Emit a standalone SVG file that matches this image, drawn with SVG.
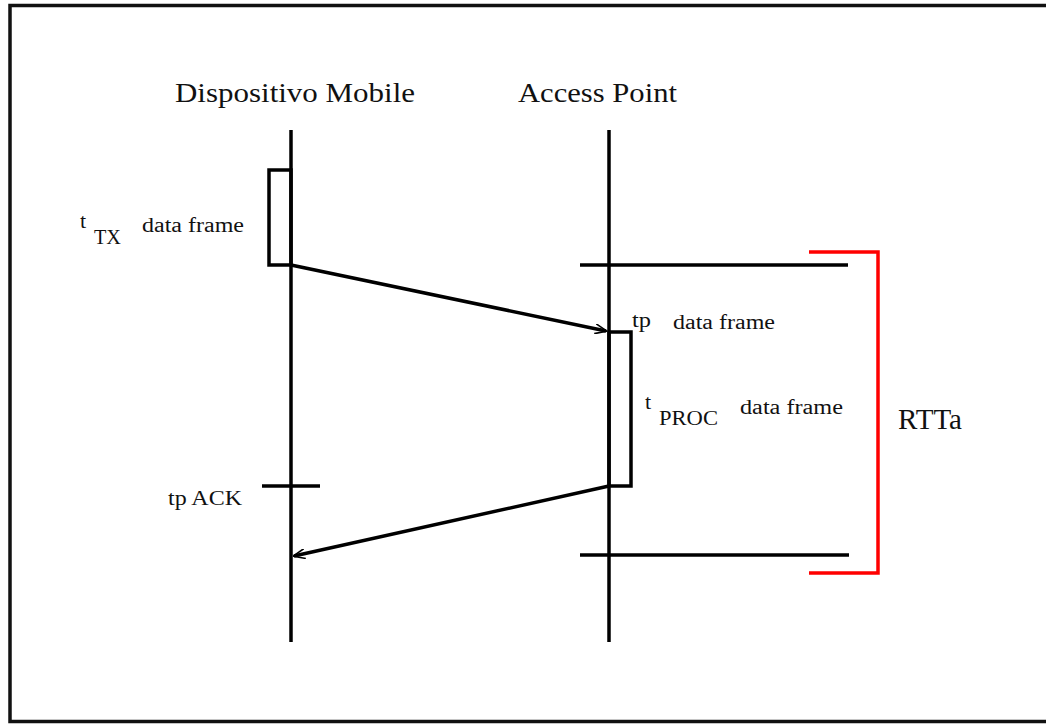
<svg xmlns="http://www.w3.org/2000/svg" width="1046" height="724" viewBox="0 0 1046 724">
<style>
.ln{stroke:#000;stroke-width:3.5;fill:none}
.t{font-family:"Liberation Serif","DejaVu Serif",serif;fill:#111}
</style>
<defs>
<marker id="ah" viewBox="0 0 12 10" refX="11" refY="5" markerWidth="12" markerHeight="10" markerUnits="userSpaceOnUse" orient="auto">
<path d="M0,0 L12,5 L0,10" fill="none" stroke="#000" stroke-width="1.6"/>
</marker>
</defs>
<rect x="0" y="0" width="1046" height="724" fill="#fff"/>
<rect x="10" y="5.5" width="1045" height="716" fill="none" stroke="#111" stroke-width="3.5"/>
<g id="dispositivo">
<text class="t" x="175" y="102" font-size="28" textLength="240" lengthAdjust="spacingAndGlyphs">Dispositivo Mobile</text>
<line class="ln" x1="291" y1="130" x2="291" y2="642"/>
<rect class="ln" x="269" y="170" width="22" height="95"/>
<line class="ln" x1="262" y1="486" x2="320" y2="486"/>
</g>
<g id="accesspoint">
<text class="t" x="518" y="102" font-size="28" textLength="159" lengthAdjust="spacingAndGlyphs">Access Point</text>
<line class="ln" x1="609" y1="130" x2="609" y2="642"/>
<rect class="ln" x="609" y="332" width="22" height="154"/>
<line class="ln" x1="580" y1="265" x2="848" y2="265"/>
<line class="ln" x1="580" y1="555" x2="849" y2="555"/>
</g>
<g id="labels">
<text class="t" x="80" y="228" font-size="22">t</text>
<text class="t" x="94" y="244" font-size="22" textLength="27" lengthAdjust="spacingAndGlyphs">TX</text>
<text class="t" x="142" y="232" font-size="20" textLength="102" lengthAdjust="spacingAndGlyphs">data frame</text>
<text class="t" x="632" y="327" font-size="22" textLength="19" lengthAdjust="spacingAndGlyphs">tp</text>
<text class="t" x="673" y="329" font-size="20" textLength="102" lengthAdjust="spacingAndGlyphs">data frame</text>
<text class="t" x="645" y="409" font-size="22">t</text>
<text class="t" x="659" y="425" font-size="22" textLength="59" lengthAdjust="spacingAndGlyphs">PROC</text>
<text class="t" x="740" y="414" font-size="20" textLength="103" lengthAdjust="spacingAndGlyphs">data frame</text>
<text class="t" x="168" y="505" font-size="22" textLength="74" lengthAdjust="spacingAndGlyphs">tp ACK</text>
</g>
<g id="rtta">
<path d="M809,252 H878 V573 H809" fill="none" stroke="#f00" stroke-width="3.5"/>
<text class="t" x="898" y="429" font-size="29" textLength="64" lengthAdjust="spacingAndGlyphs">RTTa</text>
</g>
<g id="connectors">
<line class="ln" x1="291" y1="265" x2="606" y2="331" stroke-width="3.2" marker-end="url(#ah)"/>
<line class="ln" x1="609" y1="486" x2="294" y2="556" stroke-width="3.2" marker-end="url(#ah)"/>
</g>
</svg>
